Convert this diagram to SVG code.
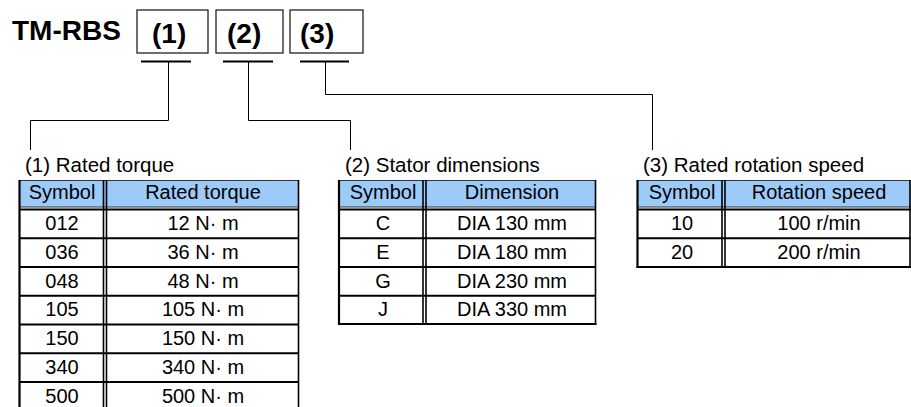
<svg xmlns="http://www.w3.org/2000/svg" width="911" height="407" viewBox="0 0 911 407">
<style>
text{font-family:"Liberation Sans",Arial,sans-serif;fill:#000}
.title{font-size:28px;font-weight:bold}
.code{font-size:28px;font-weight:bold}
.box{fill:#fff;stroke:#222;stroke-width:1.3}
.ul{stroke:#000;stroke-width:2.2}
.conn{fill:none;stroke:#000;stroke-width:1}
.cap{font-size:20.5px}
.cell{font-size:20px;text-anchor:middle}
.hdr{fill:#9ccbfa}
.thin{stroke:#333;stroke-width:1}
.thick{stroke:#000;stroke-width:2.2}
.div{stroke:#000;stroke-width:1.6}
</style>
<rect width="911" height="407" fill="#fff"/>

<g id="title"><text class="title" x="12" y="39.5">TM-RBS</text></g>

<g id="box1">
<rect class="box" x="137" y="10" width="71" height="43"/>
<text class="code" x="152" y="43">(1)</text>
<line class="ul" x1="141" y1="61.5" x2="191" y2="61.5"/>
</g>
<g id="box2">
<rect class="box" x="216" y="10" width="67" height="43"/>
<text class="code" x="227" y="43">(2)</text>
<line class="ul" x1="223" y1="61.5" x2="273" y2="61.5"/>
</g>
<g id="box3">
<rect class="box" x="290" y="10" width="73" height="43"/>
<text class="code" x="300" y="43">(3)</text>
<line class="ul" x1="300" y1="61.5" x2="349" y2="61.5"/>
</g>

<g id="connectors">
<polyline class="conn" points="168.5,62 168.5,120.5 30.5,120.5 30.5,150"/>
<polyline class="conn" points="248.5,62 248.5,120.5 350.5,120.5 350.5,150"/>
<polyline class="conn" points="325.5,62 325.5,94.5 652.5,94.5 652.5,150"/>
</g>

<g id="table1">
<text class="cap" x="25" y="171.5">(1) Rated torque</text>
<rect class="hdr" x="19.5" y="180" width="279.5" height="27"/>
<line class="thin" x1="19.5" y1="180.5" x2="299" y2="180.5"/>
<line class="thin" x1="19.5" y1="207" x2="299" y2="207"/>
<line class="thick" x1="19.5" y1="209.5" x2="299" y2="209.5"/>
<line class="thick" x1="19.5" y1="238.25" x2="299" y2="238.25"/>
<line class="thick" x1="19.5" y1="267" x2="299" y2="267"/>
<line class="thick" x1="19.5" y1="295.75" x2="299" y2="295.75"/>
<line class="thick" x1="19.5" y1="324.5" x2="299" y2="324.5"/>
<line class="thick" x1="19.5" y1="353.25" x2="299" y2="353.25"/>
<line class="thick" x1="19.5" y1="382" x2="299" y2="382"/>
<line class="thick" x1="19.5" y1="180" x2="19.5" y2="407"/>
<line class="div" x1="103.5" y1="180" x2="103.5" y2="407"/>
<line class="div" x1="106.5" y1="180" x2="106.5" y2="407"/>
<line class="div" x1="298.5" y1="180" x2="298.5" y2="407"/>
<text class="cell" x="62" y="199">Symbol</text>
<text class="cell" x="203" y="199">Rated torque</text>
<text class="cell" x="62" y="230">012</text><text class="cell" x="203" y="230">12 N· m</text>
<text class="cell" x="62" y="258.75">036</text><text class="cell" x="203" y="258.75">36 N· m</text>
<text class="cell" x="62" y="287.5">048</text><text class="cell" x="203" y="287.5">48 N· m</text>
<text class="cell" x="62" y="316.25">105</text><text class="cell" x="203" y="316.25">105 N· m</text>
<text class="cell" x="62" y="345">150</text><text class="cell" x="203" y="345">150 N· m</text>
<text class="cell" x="62" y="373.75">340</text><text class="cell" x="203" y="373.75">340 N· m</text>
<text class="cell" x="62" y="402.5">500</text><text class="cell" x="203" y="402.5">500 N· m</text>
</g>

<g id="table2">
<text class="cap" x="345" y="171.5">(2) Stator dimensions</text>
<rect class="hdr" x="339" y="180" width="257" height="27"/>
<line class="thin" x1="339" y1="180.5" x2="596" y2="180.5"/>
<line class="thin" x1="339" y1="207" x2="596" y2="207"/>
<line class="thick" x1="339" y1="209.5" x2="596" y2="209.5"/>
<line class="thick" x1="339" y1="238.25" x2="596" y2="238.25"/>
<line class="thick" x1="339" y1="267" x2="596" y2="267"/>
<line class="thick" x1="339" y1="295.75" x2="596" y2="295.75"/>
<line class="thick" x1="338" y1="324" x2="596.5" y2="324"/>
<line class="thick" x1="339" y1="180" x2="339" y2="325"/>
<line class="div" x1="423" y1="180" x2="423" y2="325"/>
<line class="div" x1="426" y1="180" x2="426" y2="325"/>
<line class="div" x1="595.5" y1="180" x2="595.5" y2="325"/>
<text class="cell" x="383" y="199">Symbol</text>
<text class="cell" x="512" y="199">Dimension</text>
<text class="cell" x="383" y="230">C</text><text class="cell" x="512" y="230">DIA 130 mm</text>
<text class="cell" x="383" y="258.75">E</text><text class="cell" x="512" y="258.75">DIA 180 mm</text>
<text class="cell" x="383" y="287.5">G</text><text class="cell" x="512" y="287.5">DIA 230 mm</text>
<text class="cell" x="383" y="316.25">J</text><text class="cell" x="512" y="316.25">DIA 330 mm</text>
</g>

<g id="table3">
<text class="cap" x="643" y="171.5">(3) Rated rotation speed</text>
<rect class="hdr" x="637.5" y="180" width="273.5" height="27"/>
<line class="thin" x1="637.5" y1="180.5" x2="911" y2="180.5"/>
<line class="thin" x1="637.5" y1="207" x2="911" y2="207"/>
<line class="thick" x1="637.5" y1="209.5" x2="911" y2="209.5"/>
<line class="thick" x1="637.5" y1="238.25" x2="911" y2="238.25"/>
<line class="thick" x1="636.5" y1="267" x2="911" y2="267"/>
<line class="thick" x1="637.5" y1="180" x2="637.5" y2="268"/>
<line class="div" x1="722" y1="180" x2="722" y2="268"/>
<line class="div" x1="725" y1="180" x2="725" y2="268"/>
<line class="div" x1="910" y1="180" x2="910" y2="268"/>
<text class="cell" x="682" y="199">Symbol</text>
<text class="cell" x="819" y="199">Rotation speed</text>
<text class="cell" x="682" y="230">10</text><text class="cell" x="819" y="230">100 r/min</text>
<text class="cell" x="682" y="258.75">20</text><text class="cell" x="819" y="258.75">200 r/min</text>
</g>
</svg>
